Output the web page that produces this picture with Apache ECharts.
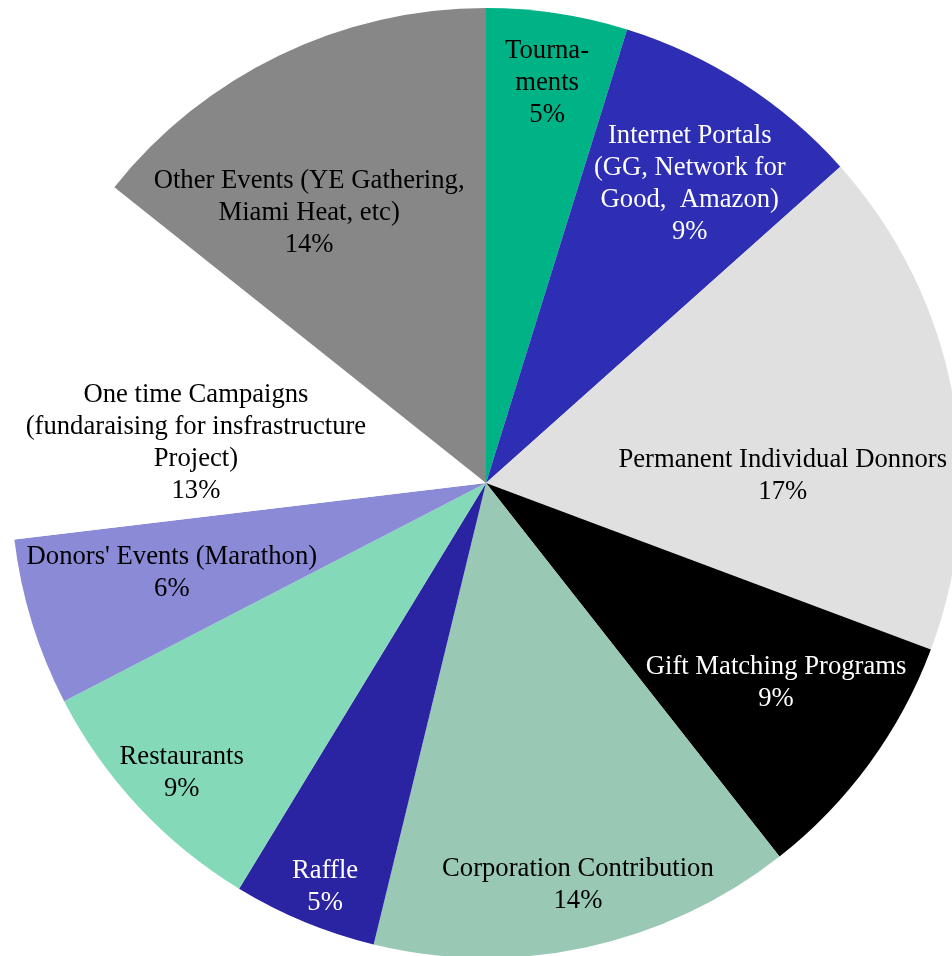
<!DOCTYPE html>
<html>
<head>
<meta charset="utf-8">
<script src="https://cdn.jsdelivr.net/npm/echarts@6/dist/echarts.min.js"></script>
<style>
  html, body { margin: 0; padding: 0; background: #fff; }
  #chart { width: 952px; height: 956px; }
</style>
</head>
<body>
<div id="chart"></div>
<script>
// categories as printed on the slices (line breaks kept)
const categories = [
    'Tourna-\nments',
    'Internet Portals\n(GG, Network for\nGood,  Amazon)',
    'Permanent Individual Donnors',
    'Gift Matching Programs',
    'Corporation Contribution',
    'Raffle',
    'Restaurants',
    "Donors' Events (Marathon)",
    'One time Campaigns\n(fundaraising for insfrastructure\nProject)',
    'Other Events (YE Gathering,\nMiami Heat, etc)'
];
// share of each source (%)
const shares = [4.8, 8.6, 17.3, 8.7, 14.4, 4.9, 8.7, 5.7, 12.6, 14.3];

const colors = ['#00B386', '#2E2EB5', '#E0E0E0', '#000000', '#99C8B4',
    '#2A24A3', '#84D9B8', '#8A8AD7', '#FFFFFF', '#878787'];
const textColors = ['#000', '#fff', '#000', '#fff', '#000',
    '#fff', '#000', '#000', '#000', '#000'];

// label placement: [fraction of radius, angle shift in degrees]
const labelPlace = [[0.856, 0], [0.766, 1.3], [0.625, 8.9], [0.739, -1.9], [0.864, -0.7],
    [0.912, -0.7], [0.882, -0.4], [0.687, 1.4], [0.617, -7.6], [0.683, -7.3]];

const CX = 486, CY = 483, R = 475;
const LABEL_DY = 2;
const FONT = '"Liberation Serif", "Times New Roman", serif';

const chart = echarts.init(document.getElementById('chart'));

const option = {
    animation: false,
    textStyle: { fontFamily: FONT },
    series: [
        {
            type: 'pie',
            center: [CX, CY],
            radius: [0, R],
            startAngle: 90,
            clockwise: true,
            avoidLabelOverlap: false,
            itemStyle: { borderWidth: 0 },
            label: {
                show: true,
                position: 'inside',
                fontFamily: FONT,
                fontSize: 26.67,
                lineHeight: 32,
                align: 'center',
                formatter: (p) => p.name + '\n' + Math.round(p.percent) + '%'
            },
            labelLine: { show: false },
            labelLayout: function (params) {
                const place = labelPlace[params.dataIndex];
                const lr = params.labelRect;
                const mx = lr.x + lr.width / 2 - CX;
                const my = lr.y + lr.height / 2 - CY;
                const a = Math.atan2(my, mx) + place[1] * Math.PI / 180;
                return {
                    x: CX + Math.cos(a) * R * place[0],
                    y: CY + Math.sin(a) * R * place[0] + LABEL_DY
                };
            },
            data: categories.map((name, i) => ({
                name: name,
                value: shares[i],
                itemStyle: { color: colors[i] },
                label: { color: textColors[i] }
            }))
        }
    ]
};

chart.setOption(option);
</script>
</body>
</html>
